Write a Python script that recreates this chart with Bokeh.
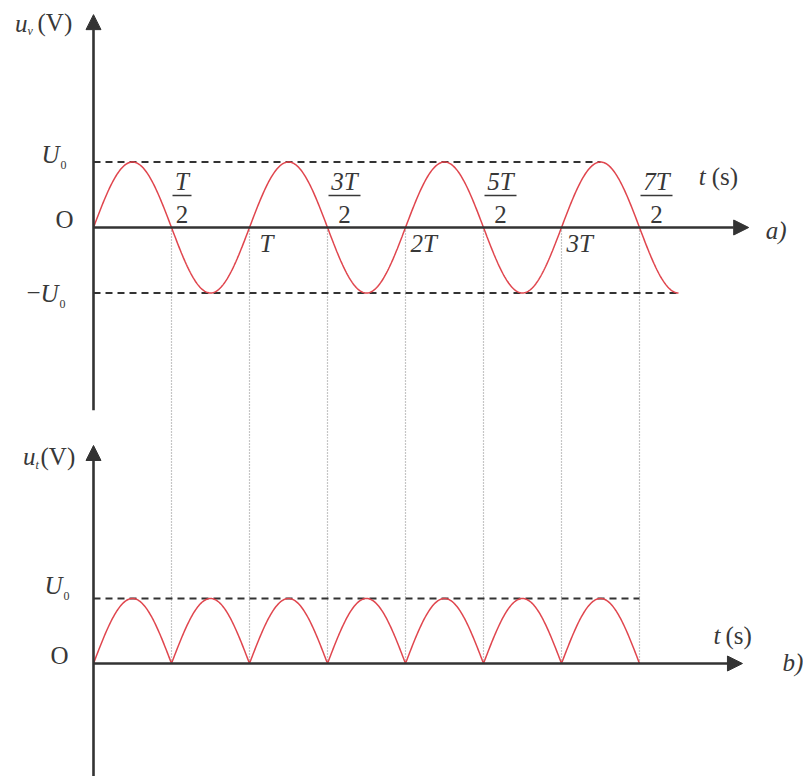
import numpy as np
from bokeh.plotting import figure
from bokeh.layouts import column
from bokeh.models import Range1d, Arrow, NormalHead
from bokeh.core.properties import value
from bokeh.embed import file_html
from bokeh.resources import INLINE

# ---------------- data (in units of T and U0) ----------------
T = 1.0
U0 = 1.0
wave_end_a = 3.75          # input sine drawn until 3.75 T
wave_end_b = 3.5           # rectified output drawn until 3.5 T
top_dash_end_a = 3.25      # +U0 dashed guide ends at last crest
bottom_dash_end_a = 3.75   # -U0 dashed guide
top_dash_end_b = 3.5
half_ticks = [0.5, 1.0, 1.5, 2.0, 2.5, 3.0, 3.5]
frac_pos = [0.5, 1.5, 2.5, 3.5]
frac_num = ["T", "3T", "5T", "7T"]
frac_den = ["2", "2", "2", "2"]
int_pos = [1.0, 2.0, 3.0]
int_lab = ["T", "2T", "3T"]

# ---------------- layout ----------------
W = 803
HA, HB = 438, 338
PX_T = 156.0
PX_UA, PX_UB = 65.5, 65.0
OX = 93.0
OYA, OYB = 227.0, 225.0

FONT = "Liberation Serif"
TXT = "#383838"
AX = "#333333"
RED = "#e0464e"
FSN = 25
SUBN = 12


def make_fig(h, oy, pxu):
    p = figure(width=W, height=h, output_backend="svg", toolbar_location=None,
               x_range=Range1d(-OX / PX_T, (W - OX) / PX_T),
               y_range=Range1d(-(h - oy) / pxu, oy / pxu),
               x_axis_type=None, y_axis_type=None, min_border=0)
    p.grid.visible = False
    p.outline_line_color = None
    p.background_fill_color = "white"
    return p


def txt(p, x, y, s, dx, dy, size=FSN, style="normal", align="left"):
    corr = -0.33 * size
    dyl = [d + corr for d in dy] if isinstance(dy, list) else dy + corr
    p.text(x=x if isinstance(x, list) else [x], y=y if isinstance(y, list) else [y],
           text=s if isinstance(s, list) else [s],
           x_offset=dx, y_offset=dyl, text_font=value(FONT), text_font_size=f"{size}px",
           text_font_style=style, text_align=align, text_baseline="alphabetic",
           text_color=TXT)


def arrow(p, x0, y0, x1, y1):
    p.add_layout(Arrow(end=NormalHead(size=15, fill_color=AX, line_color=AX, line_width=1),
                       x_start=x0, y_start=y0, x_end=x1, y_end=y1,
                       line_color=AX, line_width=2.6))


# ================= figure a =================
pa = make_fig(HA, OYA, PX_UA)
ya0, ya1 = pa.y_range.start, pa.y_range.end
tip_a = 3.25

pa.segment(x0=half_ticks, y0=[0] * 7, x1=half_ticks, y1=[ya0 - 1] * 7,
           line_color="#8c8c8c", line_width=1.2, line_dash="1 2")
pa.line([0, top_dash_end_a], [U0, U0], line_color=AX, line_width=2, line_dash="7 5")
pa.line([0, bottom_dash_end_a], [-U0, -U0], line_color=AX, line_width=2, line_dash="7 5")
ta = np.linspace(0, wave_end_a, 600)
pa.line(ta, U0 * np.sin(2 * np.pi * ta / T), line_color=RED, line_width=1.5)
arrow(pa, 0, -2.79, 0, tip_a)
arrow(pa, 0, 0, 4.2, 0)

txt(pa, 0, tip_a, "u", -66, 17, style="italic", align="right")
txt(pa, 0, tip_a, "v", -66, 20, size=SUBN, style="italic")
txt(pa, 0, tip_a, "(V)", -56, 16)
txt(pa, 0, U0, "U", -34, 1, style="italic", align="right")
txt(pa, 0, U0, "0", -33, 7, size=SUBN)
txt(pa, 0, 0, "O", -20, 0, align="right")
txt(pa, 0, -U0, "U", -35, 9, style="italic", align="right")
txt(pa, 0, -U0, "0", -34, 15, size=SUBN)
txt(pa, 0, -U0, "\u2212", -53, 8, align="right")

bar_w = [19 if s == "T" else 32 for s in frac_num]
txt(pa, frac_pos, [0] * 4, frac_num, [1 + w / 2 for w in bar_w], -38, style="italic", align="center")
txt(pa, frac_pos, [0] * 4, frac_den, [1 + w / 2 for w in bar_w], -5, align="center")
pa.segment(x0=[t + 1 / PX_T for t in frac_pos], y0=[32 / PX_UA] * 4,
           x1=[t + (1 + w) / PX_T for t, w in zip(frac_pos, bar_w)], y1=[32 / PX_UA] * 4,
           line_color=TXT, line_width=1.5)
txt(pa, int_pos, [0] * 3, int_lab, [10, 5, 5], 24, style="italic")

txt(pa, 4.2, 0, "t", -50, -43, style="italic")
txt(pa, 4.2, 0, "(s)", -37, -43)
txt(pa, 4.2, 0, "a)", 17, 11, style="italic")

# ================= figure b =================
pb = make_fig(HB, OYB, PX_UB)
yb0, yb1 = pb.y_range.start, pb.y_range.end
tip_b = 3.354

pb.segment(x0=half_ticks, y0=[0] * 7, x1=half_ticks, y1=[yb1 + 1] * 7,
           line_color="#8c8c8c", line_width=1.2, line_dash="1 2")
pb.line([0, top_dash_end_b], [U0, U0], line_color=AX, line_width=2, line_dash="7 5")
tb = np.linspace(0, wave_end_b, 600)
pb.line(tb, U0 * np.abs(np.sin(2 * np.pi * tb / T)), line_color=RED, line_width=1.5)
arrow(pb, 0, yb0 - 0.2, 0, tip_b)
arrow(pb, 0, 0, 4.16, 0)

txt(pb, 0, tip_b, "u", -58, 19, style="italic", align="right")
txt(pb, 0, tip_b, "t", -58, 23, size=SUBN, style="italic")
txt(pb, 0, tip_b, "(V)", -53, 19)
txt(pb, 0, U0, "U", -31, -5, style="italic", align="right")
txt(pb, 0, U0, "0", -30, 1, size=SUBN)
txt(pb, 0, 0, "O", -25, 0, align="right")
txt(pb, 4.16, 0, "t", -29, -20, style="italic")
txt(pb, 4.16, 0, "(s)", -17, -20)
txt(pb, 4.16, 0, "b)", 40, 7, style="italic")

layout = column(pa, pb, spacing=0)
open("out.html", "w").write(file_html(layout, INLINE))
